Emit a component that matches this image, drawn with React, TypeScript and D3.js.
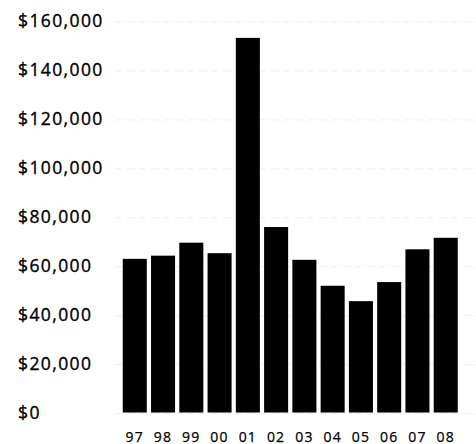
import React from "react";
import * as d3 from "d3";

const years = ["97", "98", "99", "00", "01", "02", "03", "04", "05", "06", "07", "08"];
const values = [62800, 64100, 69400, 65100, 153100, 75800, 62400, 51800, 45500, 53300, 66700, 71400];
const yTicks = [0, 20000, 40000, 60000, 80000, 100000, 120000, 140000, 160000];

const W = 476;
const H = 444;

export default function App() {
  const x = d3
    .scaleBand<string>()
    .domain(years)
    .range([120.5, 460])
    .paddingInner(0.15)
    .paddingOuter(0.08);
  const y = d3.scaleLinear().domain([0, 160000]).range([412.5, 21]);
  const fmt = (v: number) => "$" + d3.format(",")(v);

  return (
    <svg
      width={W}
      height={H}
      style={{ position: "absolute", left: 0, top: 0, background: "#fff" }}
      fontFamily="'Open Sans', sans-serif"
    >
      <rect x={0} y={0} width={W} height={H} fill="#fff" />
      {yTicks.map((t) => (
        <line
          key={"g" + t}
          x1={115}
          x2={W}
          y1={y(t) + 1}
          y2={y(t) + 1}
          stroke="#f0f0f0"
          strokeWidth={1}
          strokeDasharray="8,4"
        />
      ))}
      {yTicks.map((t) => (
        <text
          key={"t" + t}
          x={18}
          y={y(t)}
          dy="0.36em"
          fontSize={17.5}
          letterSpacing={1.4}
          fill="#000"
          stroke="#000"
          strokeWidth={0.35}
        >
          {fmt(t)}
        </text>
      ))}
      {years.map((yr, i) => (
        <rect
          key={"b" + yr}
          x={x(yr)!}
          y={y(values[i])}
          width={x.bandwidth()}
          height={y(0) - y(values[i])}
          fill="#000"
        />
      ))}
      {years.map((yr) => (
        <text
          key={"x" + yr}
          x={x(yr)! + x.bandwidth() / 2}
          y={441.5}
          textAnchor="middle"
          fontSize={14}
          letterSpacing={1.2}
          fill="#000"
          stroke="#000"
          strokeWidth={0.25}
        >
          {yr}
        </text>
      ))}
    </svg>
  );
}
